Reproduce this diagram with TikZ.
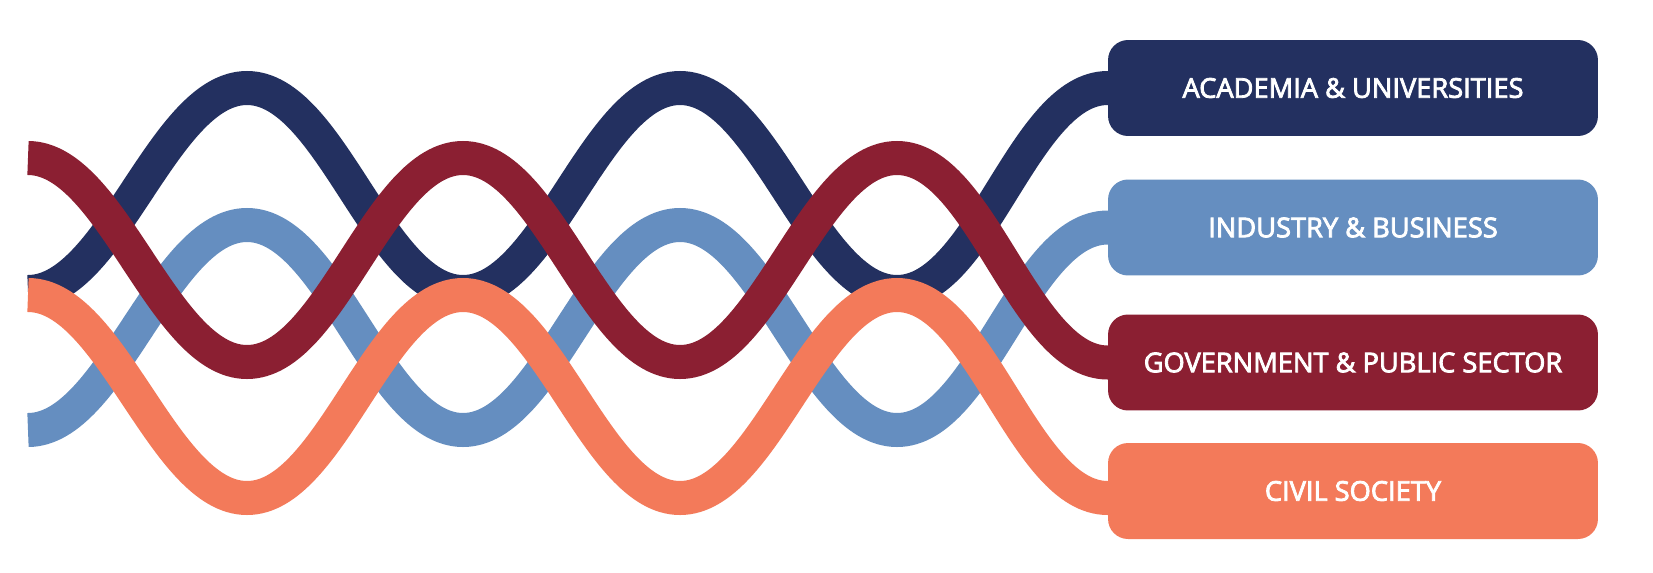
\documentclass[tikz,border=0pt]{standalone}
\usepackage{fontspec}
\setmainfont{Open Sans}
\newfontfamily\labfont{Open Sans}[FakeBold=3]
\usetikzlibrary{backgrounds}
\definecolor{navy}{HTML}{233060}
\definecolor{lblue}{HTML}{658EC0}
\definecolor{maroon}{HTML}{8B1F32}
\definecolor{coral}{HTML}{F37A5A}
\begin{document}
\begin{tikzpicture}[x=0.02cm,y=-0.02cm,
  wave/.style={line width=0.68cm, line cap=butt},
  hump/.style={to path={.. controls +(84,0) and +(-84,0) .. (\tikztotarget)}},
  lab/.style={rounded corners=0.4cm, minimum width=9.8cm, minimum height=1.92cm,
    inner sep=0pt, text=white, font=\labfont\fontsize{15.5}{18}\selectfont}]
\useasboundingbox (0,0) rectangle (1653,572);
% boxes
\node[lab, fill=navy]   (aca) at (1353,88)    {ACADEMIA \& UNIVERSITIES};
\node[lab, fill=lblue]  (ind) at (1353,227.5) {INDUSTRY \& BUSINESS};
\node[lab, fill=maroon] (gov) at (1353,362.5) {GOVERNMENT \& PUBLIC SECTOR};
\node[lab, fill=coral]  (civ) at (1353,491)   {CIVIL SOCIETY};
% start points
\coordinate (n0) at (28,292);
\coordinate (b0) at (28,430);
\coordinate (m0) at (28,158);
\coordinate (c0) at (28,295);
\begin{scope}[on background layer]
\fill[white] (0,0) rectangle (1653,572);
\draw[wave, navy, hump] (n0) to (247,88) to (463,292) to (680,88) to (897,292)
  to (aca.west) -- ++(20,0);
\draw[wave, lblue, hump] (b0) to (247,225) to (463,430) to (680,225) to (897,430)
  to (ind.west) -- ++(20,0);
\draw[wave, maroon, hump] (m0) to (247,362) to (463,158) to (680,362) to (897,158)
  to (gov.west) -- ++(20,0);
\draw[wave, coral, hump] (c0) to (247,498) to (463,295) to (680,498) to (897,295)
  to ([yshift=-0.14cm]civ.west) -- ++(20,0);
\end{scope}
\end{tikzpicture}
\end{document}
